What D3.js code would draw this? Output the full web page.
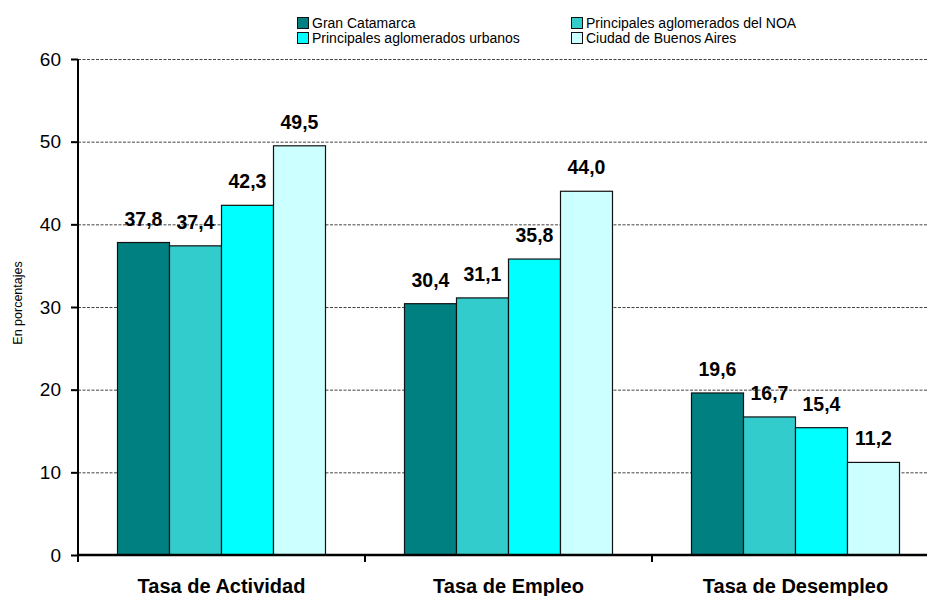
<!DOCTYPE html>
<html>
<head>
<meta charset="utf-8">
<script src="https://cdn.jsdelivr.net/npm/d3@7"></script>
<style>
  html, body { margin: 0; padding: 0; background: #fff; }
  svg { display: block; font-family: Arial, "Liberation Sans", sans-serif; }
</style>
</head>
<body>
<svg id="chart" width="927" height="596"></svg>
<script>
// ---- Data ----
const categories = ["Tasa de Actividad", "Tasa de Empleo", "Tasa de Desempleo"];
const seriesNames = ["Gran Catamarca", "Principales aglomerados del NOA", "Principales aglomerados urbanos", "Ciudad de Buenos Aires"];
const granCatamarca = [37.8, 30.4, 19.6];
const aglomeradosNOA = [37.4, 31.1, 16.7];
const aglomeradosUrbanos = [42.3, 35.8, 15.4];
const ciudadBuenosAires = [49.5, 44.0, 11.2];
const yTicks = [0, 10, 20, 30, 40, 50, 60];
const seriesColors = ["#008080", "#33CCCC", "#00FFFF", "#CCFFFF"];
const yTitle = "En porcentajes";

(function () {
const seriesValues = [granCatamarca, aglomeradosNOA, aglomeradosUrbanos, ciudadBuenosAires];

const svg = d3.select("#chart");
const mLeft = 78, mBottom = 555, mTop = 59;
const band = 287;

const x0 = d3.scaleBand().domain(categories).range([mLeft, mLeft + band * categories.length]).padding(0);
const x1 = d3.scaleBand().domain(seriesNames).range([39.5, 247.5]).padding(0);
const y = d3.scaleLinear().domain([0, 60]).range([mBottom, mTop]);
const color = d3.scaleOrdinal().domain(seriesNames).range(seriesColors);
const fmt = v => d3.format(".1f")(v).replace(".", ",");

// gridlines
svg.append("g")
  .selectAll("line")
  .data(yTicks.filter(t => t > 0))
  .join("line")
  .attr("x1", mLeft).attr("x2", mLeft + band * 3)
  .attr("y1", d => y(d) + 0.5).attr("y2", d => y(d) + 0.5)
  .attr("stroke", "#444")
  .attr("stroke-width", 1)
  .attr("stroke-dasharray", "3,1.5");

// bars
const groups = svg.append("g")
  .selectAll("g")
  .data(categories)
  .join("g")
  .attr("transform", d => `translate(${x0(d)},0)`);

groups.selectAll("rect")
  .data((c, ci) => seriesNames.map((s, si) => ({ s, v: seriesValues[si][ci] })))
  .join("rect")
  .attr("x", d => x1(d.s))
  .attr("y", d => y(d.v))
  .attr("width", x1.bandwidth())
  .attr("height", d => mBottom - y(d.v))
  .attr("fill", d => color(d.s))
  .attr("stroke", "#111")
  .attr("stroke-width", 1.2);

groups.selectAll("text")
  .data((c, ci) => seriesNames.map((s, si) => ({ s, v: seriesValues[si][ci] })))
  .join("text")
  .attr("x", d => x1(d.s) + x1.bandwidth() / 2)
  .attr("y", d => y(d.v) - 17)
  .attr("text-anchor", "middle")
  .attr("font-size", "19.5px")
  .attr("font-weight", "bold")
  .attr("fill", "#000")
  .text(d => fmt(d.v));

// y axis
const yAxis = d3.axisLeft(y).tickValues(yTicks).tickSize(7).tickPadding(10).tickFormat(d3.format("d"));
const gy = svg.append("g").attr("transform", `translate(${mLeft},0)`).call(yAxis);
gy.select(".domain").attr("stroke", "#000").attr("stroke-width", 2).attr("d", `M0,${mTop}V${mBottom + 1}`);
gy.selectAll(".tick line").attr("stroke", "#000").attr("stroke-width", 2);
gy.selectAll(".tick text").attr("font-size", "19px").attr("fill", "#000").attr("font-family", "Arial, 'Liberation Sans', sans-serif");

// x axis
const gx = svg.append("g").attr("transform", `translate(0,${mBottom})`);
gx.append("line").attr("x1", mLeft - 1).attr("x2", mLeft + band * 3).attr("y1", 0).attr("y2", 0)
  .attr("stroke", "#000").attr("stroke-width", 2.5);
gx.selectAll("line.tk")
  .data(categories)
  .join("line")
  .attr("class", "tk")
  .attr("x1", d => x0(d)).attr("x2", d => x0(d))
  .attr("y1", 0).attr("y2", 7)
  .attr("stroke", "#000").attr("stroke-width", 2);
gx.selectAll("text")
  .data(categories)
  .join("text")
  .attr("x", d => x0(d) + band / 2)
  .attr("y", 38)
  .attr("text-anchor", "middle")
  .attr("font-size", "20px")
  .attr("font-weight", "bold")
  .attr("fill", "#000")
  .text(d => d);

// y title
svg.append("text")
  .attr("transform", "translate(22,303) rotate(-90)")
  .attr("text-anchor", "middle")
  .attr("font-size", "12.5px")
  .attr("fill", "#000")
  .text(yTitle);

// legend
const legendPos = [[297, 17], [571, 17], [297, 32], [571, 32]];
const lg = svg.append("g")
  .selectAll("g")
  .data(seriesNames)
  .join("g")
  .attr("transform", (d, i) => `translate(${legendPos[i][0]},${legendPos[i][1]})`);
lg.append("rect")
  .attr("x", 0.5).attr("y", 0.5).attr("width", 11).attr("height", 11)
  .attr("fill", d => color(d)).attr("stroke", "#111").attr("stroke-width", 1);
lg.append("text")
  .attr("x", 15).attr("y", 10.5)
  .attr("font-size", "14px")
  .attr("fill", "#000")
  .text(d => d);
})();
</script>
</body>
</html>
